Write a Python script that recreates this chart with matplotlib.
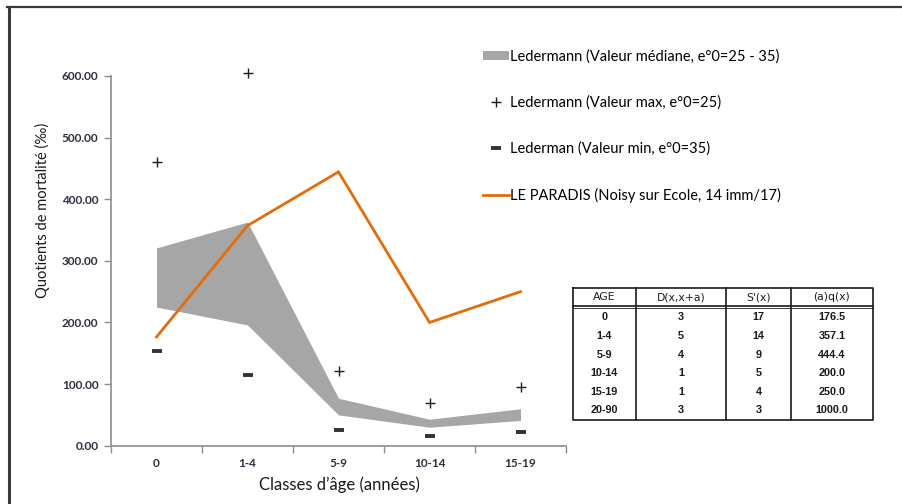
import matplotlib
matplotlib.use("Agg")
import matplotlib.pyplot as plt
from matplotlib.lines import Line2D
from matplotlib.patches import Patch

# ---- data ----
categories = ["0", "1-4", "5-9", "10-14", "15-19"]
band_upper = [321, 363, 77, 43, 60]
band_lower = [225, 196, 50, 30, 41]
led_max = [460, 605, 121, 69, 95]
led_min = [154, 115, 26, 16, 23]
paradis = [176.5, 357.1, 444.4, 200.0, 250.0]

table_header = ["AGE", "D(x,x+a)", "S'(x)", "(a)q(x)"]
table_age = ["0", "1-4", "5-9", "10-14", "15-19", "20-90"]
table_d = ["3", "5", "4", "1", "1", "3"]
table_s = ["17", "14", "9", "5", "4", "3"]
table_q = ["176.5", "357.1", "444.4", "200.0", "250.0", "1000.0"]

label_band = "Ledermann (Valeur médiane, e°0=25 - 35)"
label_max = "Ledermann (Valeur max, e°0=25)"
label_min = "Lederman (Valeur min, e°0=35)"
label_par = "LE PARADIS (Noisy sur Ecole, 14 imm/17)"

FONT = "Lato"
plt.rcParams['font.family'] = [FONT, 'DejaVu Sans']

W, H = 903, 504
fig = plt.figure(figsize=(W / 100, H / 100), dpi=100)

def fx(px):
    return px / W

def fy(py):
    return 1 - py / H

# outer frame (top and left)
fig.add_artist(Line2D([fx(7), 1], [fy(7), fy(7)], color="#3a3a3a", lw=1.6))
fig.add_artist(Line2D([fx(9), fx(9)], [fy(7), 0], color="#3a3a3a", lw=2.2))

ax = fig.add_axes([fx(111), fy(445.7), fx(566) - fx(111), fy(76) - fy(445.7)])
x = list(range(len(categories)))

orange = "#E46C0A"
ax.fill_between(x, band_lower, band_upper, color="#A6A6A6", lw=0, zorder=1)
ax.plot(x, paradis, color=orange, lw=2.0, zorder=3, solid_joinstyle="miter")
ax.plot(x, led_max, ls="none", marker="+", ms=7, mew=1.0, color="#1a1a1a", zorder=4, clip_on=False)
ax.plot(x, led_min, ls="none", marker="_", ms=6.5, mew=2.8, color="#333333", zorder=4, clip_on=False)

ax.set_xlim(-0.5, len(categories) - 0.5)
ax.set_ylim(0, 600)
yt = [0, 100, 200, 300, 400, 500, 600]
ax.set_yticks(yt)
ax.set_yticklabels([f"{v:.2f}" for v in yt])
ax.set_xticks([i - 0.5 for i in range(len(categories) + 1)])
ax.set_xticklabels([])
ax.set_xticks(x, minor=True)
ax.set_xticklabels(categories, minor=True)
ax.tick_params(axis="x", which="minor", length=0, pad=9, labelsize=8.5, labelcolor="#2e2e3e")
ax.tick_params(axis="x", which="major", length=5, direction="out", color="#8c8c8c", width=1)
ax.tick_params(axis="y", length=5, direction="out", color="#8c8c8c", width=1, labelsize=8.5,
               labelcolor="#2e2e3e", pad=4)
for lab in ax.get_yticklabels() + ax.get_xticklabels(minor=True):
    lab.set_fontweight("bold")
for s in ["top", "right"]:
    ax.spines[s].set_visible(False)
for s in ["left", "bottom"]:
    ax.spines[s].set_color("#8c8c8c")
    ax.spines[s].set_linewidth(1.2)

fig.text(fx(42), fy(210), "Quotients de mortalité (‰)", rotation=90, ha="center", va="center",
         fontsize=10.5, color="#1a1a1a")
fig.text(fx(339), fy(485), "Classes d’âge (années)", ha="center", va="center",
         fontsize=12, color="#1a1a1a")

handles = [
    Patch(facecolor="#A6A6A6", edgecolor="none"),
    Line2D([], [], ls="none", marker="+", ms=7, mew=1.0, color="#1a1a1a"),
    Line2D([], [], ls="none", marker="_", ms=6.5, mew=2.8, color="#333333"),
    Line2D([], [], color=orange, lw=2.0),
]
fig.legend(handles, [label_band, label_max, label_min, label_par],
           loc="upper left", bbox_to_anchor=(fx(483), fy(49)), frameon=False,
           fontsize=10.5, borderpad=0, borderaxespad=0, handlelength=1.8,
           handleheight=0.6, handletextpad=0.08, labelspacing=2.2)

# ---- table ----
tl, tr, tt, tb = 573, 873, 288, 420
col_edges = [573, 636, 726, 791, 873]
hdr_bottom = 306
rows_y = [317, 336, 355, 373, 392, 410]
lc = "#1a1a1a"
fig.add_artist(Line2D([fx(tl), fx(tr), fx(tr), fx(tl), fx(tl)],
                      [fy(tt), fy(tt), fy(tb), fy(tb), fy(tt)], color=lc, lw=1.2))
for c in col_edges[1:-1]:
    fig.add_artist(Line2D([fx(c), fx(c)], [fy(tt), fy(tb)], color=lc, lw=1.2))
fig.add_artist(Line2D([fx(tl), fx(tr)], [fy(hdr_bottom), fy(hdr_bottom)], color=lc, lw=1.2))
fig.add_artist(Line2D([fx(tl), fx(tr)], [fy(hdr_bottom + 2), fy(hdr_bottom + 2)], color=lc, lw=0.6))
centers = [(col_edges[i] + col_edges[i + 1]) / 2 for i in range(4)]
for i, h in enumerate(table_header):
    fig.text(fx(centers[i]), fy(297), h, ha="center", va="center", fontsize=7.8,
             family="DejaVu Sans", color="#1a1a1a")
cols = [table_age, table_d, table_s, table_q]
for r, yy in enumerate(rows_y):
    for i in range(4):
        fig.text(fx(centers[i]), fy(yy), cols[i][r], ha="center", va="center", fontsize=7.8,
                 family="Liberation Sans", fontweight="bold", color="#1a1a1a")

fig.savefig("out.png", dpi=100)
